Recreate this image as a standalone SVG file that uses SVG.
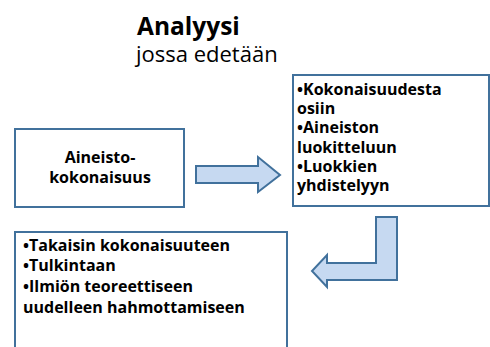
<svg xmlns="http://www.w3.org/2000/svg" width="490" height="347" viewBox="0 0 490 347">
<style>
.box{fill:#fff;stroke:#41719c;stroke-width:2}
.arr{fill:#c6d9f1;stroke:#41719c;stroke-width:2;stroke-linejoin:miter}
.t{font-family:"Open Sans","Liberation Sans",sans-serif;font-weight:bold;font-size:16px;fill:#000}
.title{font-family:"Open Sans","Liberation Sans",sans-serif;font-weight:bold;font-size:24.5px;fill:#000}
.sub{font-family:"Open Sans","Liberation Sans",sans-serif;font-size:22px;fill:#000}
</style>
<rect width="490" height="347" fill="#fff"/>
<g id="title">
<text class="title" x="137" y="35">Analyysi</text>
<text class="sub" x="136" y="62">jossa edetään</text>
</g>
<g id="node-aineisto">
<rect class="box" x="15" y="129" width="169" height="78"/>
<text class="t" x="100" y="163" text-anchor="middle">Aineisto-</text>
<text class="t" x="100" y="183" text-anchor="middle">kokonaisuus</text>
</g>
<g id="node-analyysi">
<rect class="box" x="293" y="75" width="196" height="131"/>
<text class="t">
<tspan x="297" y="95">•Kokonaisuudesta</tspan>
<tspan x="297" y="114">osiin</tspan>
<tspan x="297" y="133">•Aineiston</tspan>
<tspan x="297" y="153">luokitteluun</tspan>
<tspan x="297" y="172">•Luokkien</tspan>
<tspan x="297" y="191">yhdistelyyn</tspan>
</text>
</g>
<g id="node-synteesi">
<rect class="box" x="15" y="232" width="272" height="130"/>
<text class="t">
<tspan x="23" y="251">•Takaisin kokonaisuuteen</tspan>
<tspan x="23" y="271">•Tulkintaan</tspan>
<tspan x="23" y="292">•Ilmiön teoreettiseen</tspan>
<tspan x="23" y="313">uudelleen hahmottamiseen</tspan>
</text>
</g>
<g id="connectors">
<path class="arr" d="M196,166 H258 V157 L280,175 L258,192 V183 H196 Z"/>
<path class="arr" d="M376,217 H397 V280 H327 V287 L312,271 L327,255 V263 H376 Z"/>
</g>
</svg>
